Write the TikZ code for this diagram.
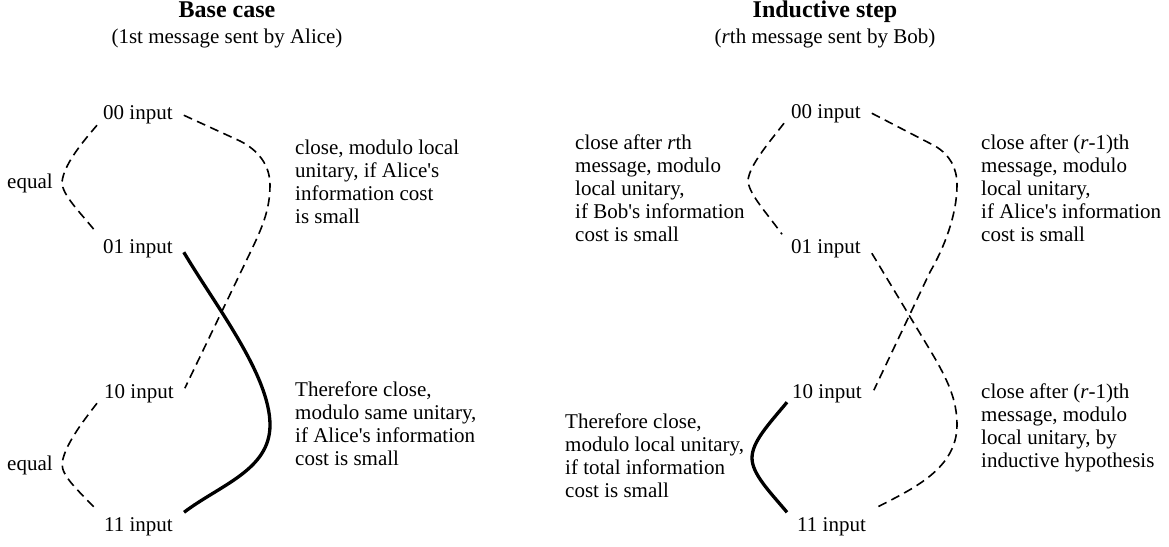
\documentclass[tikz,border=0pt]{standalone}
\usepackage{fontspec}
\setmainfont{Liberation Serif}
\newcommand{\aps}{\textquotesingle}
\begin{document}
\begin{tikzpicture}[x=1pt,y=-1pt,
  lbl/.style={inner sep=0pt,font=\fontsize{21}{23}\selectfont},
  inp/.style={lbl,anchor=base west},
  note/.style={lbl,anchor=base west,align=left},
  ttl/.style={inner sep=0pt,anchor=base,font=\fontsize{24}{28}\selectfont\bfseries},
  sub/.style={inner sep=0pt,anchor=base,font=\fontsize{21}{23}\selectfont},
  dsh/.style={line width=1.6pt,dash pattern=on 9pt off 5.5pt},
  thk/.style={line width=3.3pt}]
\useasboundingbox (0,0) rectangle (1169,546);
% titles
\node[ttl] (t1) at (227,17) {Base case};
\node[sub] (s1) at (227,43) {(1st message sent by Alice)};
\node[ttl] (t2) at (825,17) {Inductive step};
\node[sub] (s2) at (825,43) {(\textit{r}th message sent by Bob)};
% left diagram
\node[inp] (a00) at (103,119) {00 input};
\node[inp] (a01) at (103,253) {01 input};
\node[inp] (a10) at (104,398) {10 input};
\node[inp] (a11) at (104,531) {11 input};
\node[lbl,anchor=west] (e1) at (7,183) {equal};
\node[lbl,anchor=west] (e2) at (7,465) {equal};
% multi-line notes: base anchor is the baseline of the last line
\node[note] (c1) at (295,223) {close, modulo local\\unitary, if Alice\aps s\\information cost\\is small};
\node[note] (c2) at (295,465) {Therefore close,\\modulo same unitary,\\if Alice\aps s information\\cost is small};
% right diagram
\node[inp] (b00) at (791,118) {00 input};
\node[inp] (b01) at (791,253) {01 input};
\node[inp] (b10) at (792,398) {10 input};
\node[inp] (b11) at (797,531) {11 input};
\node[note] (d1) at (575,241) {close after \textit{r}th\\message, modulo\\local unitary,\\if Bob\aps s information\\cost is small};
\node[note] (d2) at (981,241) {close after (\textit{r}-1)th\\message, modulo\\local unitary,\\if Alice\aps s information\\cost is small};
\node[note] (d3) at (565,497) {Therefore close,\\modulo local unitary,\\if total information\\cost is small};
\node[note] (d4) at (981,467) {close after (\textit{r}-1)th\\message, modulo\\local unitary, by\\inductive hypothesis};
% left connectors
\draw[dsh] ([shift={(-6,11)}]a00.west) .. controls (80,145) and (64,165) .. (62,182) .. controls (62,195) and (80,212) .. ([shift={(-6,-15)}]a01.west);
\draw[dsh] ([shift={(-7,10)}]a10.west) .. controls (80,425) and (64,447) .. (62,464) .. controls (62,477) and (80,492) .. ([shift={(-7,-16)}]a11.west);
\draw[dsh] ([shift={(11,1)}]a00.east) -- (240,141) .. controls (258,150) and (270,165) .. (270,185) .. controls (270,210) and (262,228) .. (250,253) -- ([shift={(11,-5)}]a10.east);
\draw[thk] ([shift={(11,4)}]a01.east) .. controls (215,305) and (270,375) .. (270,425) .. controls (270,470) and (220,485) .. ([shift={(11,-14)}]a11.east);
% right connectors
\draw[dsh] ([shift={(-7,10)}]b00.west) .. controls (767,145) and (750,165) .. (748,180) .. controls (748,193) and (766,212) .. ([shift={(-9,-14)}]b01.west);
\draw[dsh] ([shift={(11,0)}]b00.east) -- (935,146) .. controls (950,155) and (957,168) .. (957,185) .. controls (957,215) and (944,248) .. (930,272) -- ([shift={(12,-3)}]b10.east);
\draw[dsh] ([shift={(11,5)}]b01.east) -- (930,350) .. controls (948,380) and (957,400) .. (957,425) .. controls (957,470) and (910,490) .. ([shift={(9,-18)}]b11.east);
\draw[thk] ([shift={(-5,9)}]b10.west) .. controls (768,425) and (752,442) .. (752,458) .. controls (752,474) and (770,492) .. ([shift={(-10,-14)}]b11.west);
\end{tikzpicture}
\end{document}
